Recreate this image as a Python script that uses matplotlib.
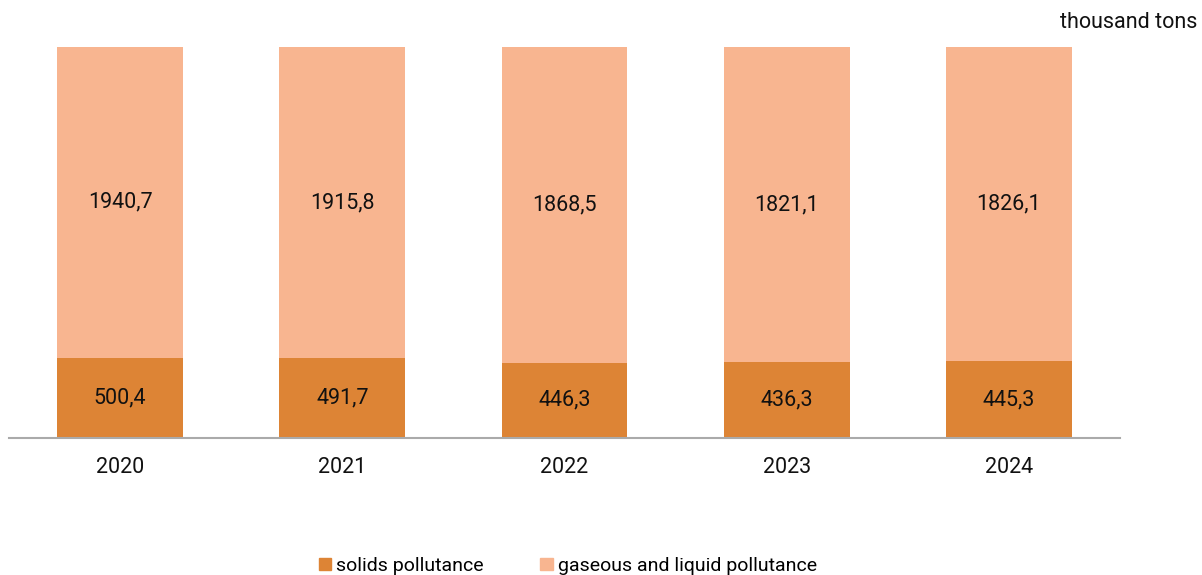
import matplotlib
matplotlib.use("Agg")
import matplotlib.pyplot as plt
from matplotlib.patches import Patch

plt.rcParams['font.family'] = ['Roboto', 'DejaVu Sans']

years = ['2020', '2021', '2022', '2023', '2024']
solids = [500.4, 491.7, 446.3, 436.3, 445.3]
gaseous = [1940.7, 1915.8, 1868.5, 1821.1, 1826.1]

c_solid = '#DD8435'
c_gas = '#F8B590'

fig = plt.figure(figsize=(12.02, 5.75), dpi=100)
ax = fig.add_axes([9/1202, 1-438/575, (1120-9)/1202, (438-47)/575])

x = list(range(len(years)))
tot = [s + g for s, g in zip(solids, gaseous)]
sp = [s / t for s, t in zip(solids, tot)]
gp = [g / t for g, t in zip(gaseous, tot)]
w = 0.567
ax.bar(x, sp, width=w, color=c_solid, label='solids pollutance')
ax.bar(x, gp, width=w, bottom=sp, color=c_gas, label='gaseous and liquid pollutance')

def fmt(v):
    return f"{v:.1f}".replace('.', ',')

fs = 15.5
for i in x:
    ax.text(i, sp[i] / 2, fmt(solids[i]), ha='center', va='center', fontsize=fs, color='#111111')
    ax.text(i, sp[i] + gp[i] / 2, fmt(gaseous[i]), ha='center', va='center', fontsize=fs, color='#111111')

ax.set_xlim(-0.5, 4.5)
ax.set_ylim(0, 1)
ax.set_yticks([])
ax.set_xticks(x)
ax.set_xticklabels(years, fontsize=fs, color='#111111')
ax.tick_params(axis='x', length=0, pad=14)
for s in ['top', 'right', 'left']:
    ax.spines[s].set_visible(False)
ax.spines['bottom'].set_color('#AAAAAA')
ax.spines['bottom'].set_linewidth(1.5)

fig.text(1197/1202, 1-22/575, 'thousand tons', ha='right', va='center', fontsize=fs, color='#111111')

handles = [Patch(color=c_solid, label='solids pollutance'),
           Patch(color=c_gas, label='gaseous and liquid pollutance')]
fig.legend(handles=handles, loc='center', bbox_to_anchor=(568/1202, 1-566/575), ncol=2,
           frameon=False, fontsize=14, handlelength=0.62, handleheight=0.62,
           handletextpad=0.26, columnspacing=2.9, borderpad=0)

fig.savefig('out.png', dpi=100)
